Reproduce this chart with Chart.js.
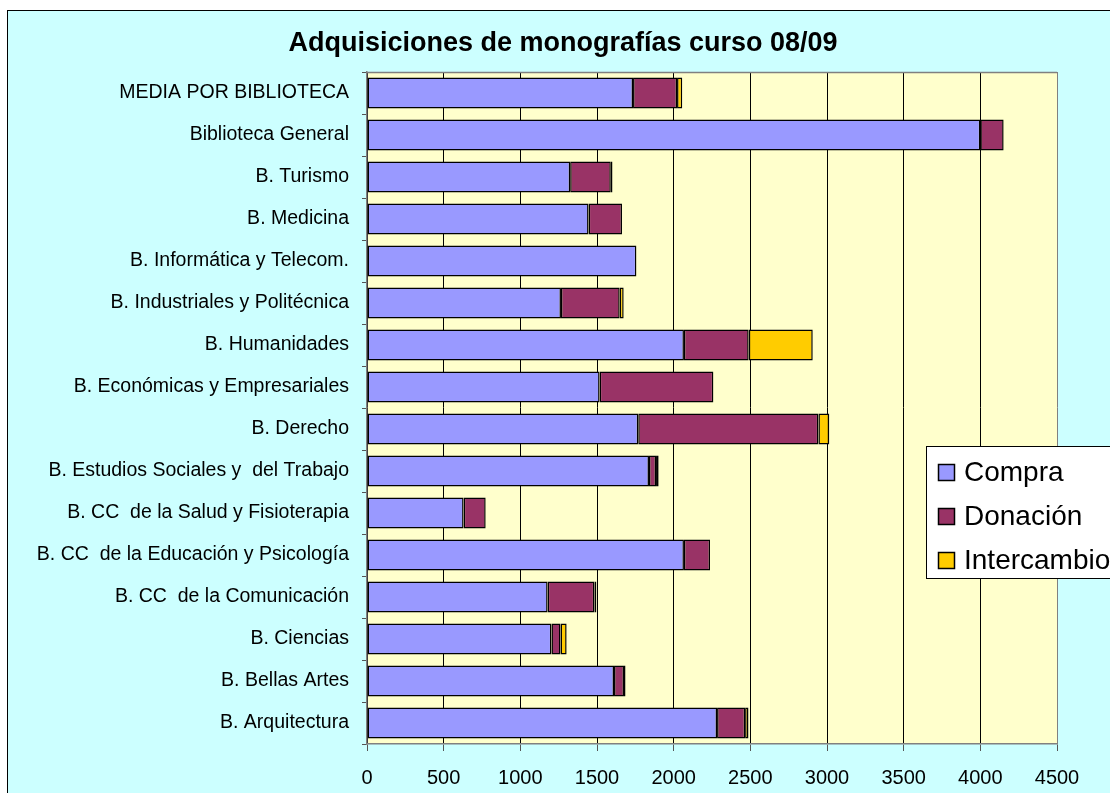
<!DOCTYPE html>
<html><head><meta charset="utf-8">
<script src="https://cdn.jsdelivr.net/npm/chart.js@4"></script>
<style>
html,body{margin:0;padding:0;background:#fff;overflow:hidden;width:1110px;height:793px}
#wrap{position:absolute;left:7px;top:10px;width:1130px;height:800px;border-left:1px solid #000;border-top:1px solid #000;background:#CCFFFF;overflow:hidden}
canvas{display:block}
</style></head>
<body>
<div id="wrap"><canvas id="c" width="1110" height="800"></canvas></div>
<script>
const titleText = 'Adquisiciones de monografías curso 08/09';
const categories = [
  'MEDIA POR BIBLIOTECA','Biblioteca General','B. Turismo','B. Medicina',
  'B. Informática y Telecom.','B. Industriales y Politécnica','B. Humanidades',
  'B. Económicas y Empresariales','B. Derecho','B. Estudios Sociales y  del Trabajo',
  'B. CC  de la Salud y Fisioterapia','B. CC  de la Educación y Psicología',
  'B. CC  de la Comunicación','B. Ciencias','B. Bellas Artes','B. Arquitectura'
];
const seriesNames = ['Compra','Donación','Intercambio'];
const compra      = [1735, 4000, 1325, 1445, 1757, 1265, 2067, 1517, 1769, 1839, 630, 2067, 1178, 1203, 1611, 2283];
const donacion    = [ 287,  152,  265,  218,    0,  383,  422,  742, 1175,   46, 144,  170,  305,   59,   65,  183];
const intercambio = [  34,    0,   11,    0,    0,   26,  418,    0,   71,   17,   0,    0,   13,   40,   10,   22];
const xTicks = [0,500,1000,1500,2000,2500,3000,3500,4000,4500];

const colors = ['#9999FF','#993366','#FFCC00'];
const FONT = "'Liberation Sans', Arial, sans-serif";

const decor = {
  id:'decor',
  beforeDraw(chart){
    const {ctx, chartArea:a} = chart;
    ctx.save(); ctx.fillStyle='#FFFFCC';
    ctx.fillRect(a.left,a.top,a.right-a.left,a.bottom-a.top);
    ctx.restore();
  },
  afterDraw(chart){
    const {ctx, chartArea:a} = chart;
    ctx.save(); ctx.strokeStyle='#808080'; ctx.lineWidth=1.5;
    ctx.beginPath(); ctx.moveTo(a.left,a.top+0.5); ctx.lineTo(a.right,a.top+0.5); ctx.stroke();
    ctx.restore();
    // title
    ctx.save();
    ctx.font = 'bold 27px ' + FONT; ctx.fillStyle='#000';
    ctx.textAlign='center'; ctx.textBaseline='alphabetic';
    ctx.fillText(titleText, 555, 40);
    ctx.restore();
    // legend
    ctx.save();
    ctx.fillStyle='#fff'; ctx.strokeStyle='#000'; ctx.lineWidth=1;
    ctx.fillRect(918.5,435.5,260,132); ctx.strokeRect(918.5,435.5,260,132);
    ctx.font = '28px ' + FONT; ctx.textBaseline='alphabetic';
    chart.data.datasets.forEach((ds,i)=>{
      const y = 453 + i*44;
      ctx.fillStyle = ds.backgroundColor; ctx.fillRect(930.5,y+0.5,16,16);
      ctx.strokeStyle='#000'; ctx.lineWidth=1.5; ctx.strokeRect(930.5,y+0.5,16,16);
      ctx.fillStyle='#000'; ctx.fillText(ds.label, 956, 470 + i*44);
    });
    ctx.restore();
  }
};

new Chart(document.getElementById('c'), {
  type:'bar',
  data:{
    labels:categories,
    datasets:[compra,donacion,intercambio].map((d,i)=>({
      label:seriesNames[i], data:d, backgroundColor:colors[i],
      borderColor:'#000', borderWidth:1.5, borderSkipped:false,
      barPercentage:0.74, categoryPercentage:1
    }))
  },
  options:{
    indexAxis:'y', responsive:false, animation:false,
    layout:{padding:{left:0,right:61,top:61,bottom:0}},
    plugins:{
      legend:{display:false}, tooltip:{enabled:false}, title:{display:false}
    },
    scales:{
      x:{
        stacked:true, min:0, max:4500,
        afterFit(s){ s.height = 67; },
        afterBuildTicks(s){ s.ticks = xTicks.map(v=>({value:v})); },
        ticks:{color:'#000', font:{family:FONT,size:20}, padding:15, maxRotation:0,
               callback:v=>String(v)},
        grid:{color:c=> (c.tick && c.tick.value===4500) ? '#808080' : '#000',
              lineWidth:1, tickLength:7, tickColor:'#555'},
        border:{color:'#808080', width:1.5}
      },
      y:{
        stacked:true,
        afterFit(s){ s.width = 359; },
        ticks:{color:'#000', font:{family:FONT,size:19.5}, padding:13},
        grid:{drawOnChartArea:false, offset:true, tickLength:5, color:'#555'},
        border:{color:'#808080', width:1.5}
      }
    }
  },
  plugins:[decor]
});
</script>
</body></html>
